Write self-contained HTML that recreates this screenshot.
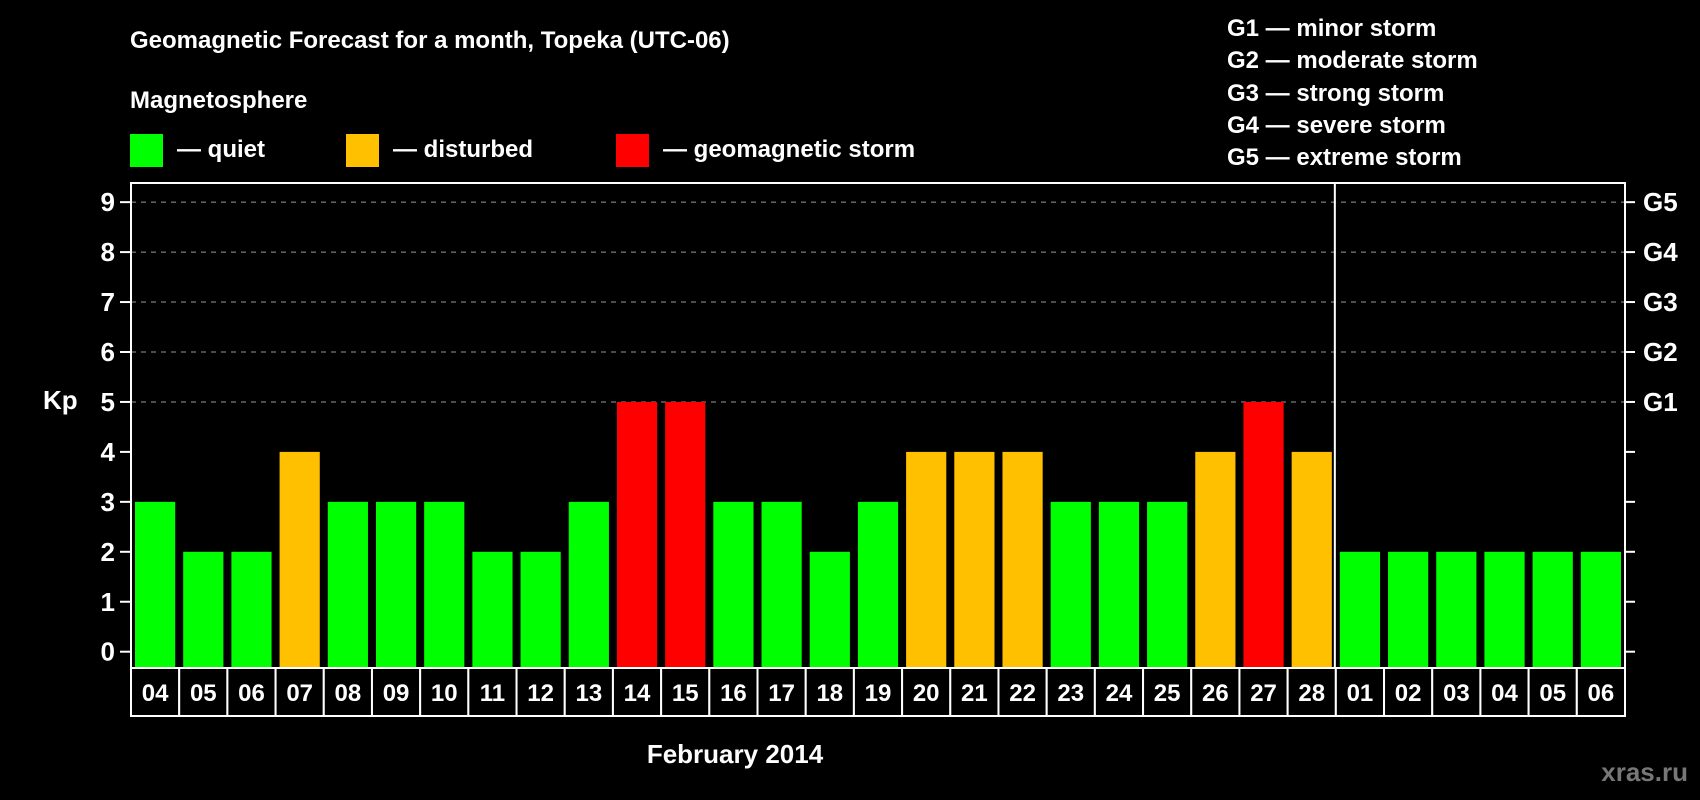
<!DOCTYPE html>
<html><head><meta charset="utf-8"><style>
body{margin:0;background:#000;}
svg{display:block;font-family:"Liberation Sans",Arial,sans-serif;font-weight:bold;}
</style></head><body>
<svg id="chart" width="1700" height="800" viewBox="0 0 1700 800">
<rect width="1700" height="800" fill="#000"/>
<text x="130" y="48" fill="#fff" font-size="24">Geomagnetic Forecast for a month, Topeka (UTC-06)</text>
<text x="130" y="108" fill="#fff" font-size="24">Magnetosphere</text>
<g><rect x="130" y="134" width="33" height="33" fill="#00ff00"/><text x="177" y="157" fill="#fff" font-size="24">— quiet</text></g>
<g><rect x="346" y="134" width="33" height="33" fill="#ffc000"/><text x="393" y="157" fill="#fff" font-size="24">— disturbed</text></g>
<g><rect x="616" y="134" width="33" height="33" fill="#ff0000"/><text x="663" y="157" fill="#fff" font-size="24">— geomagnetic storm</text></g>
<g fill="#fff" font-size="24">
<text x="1227" y="36">G1 — minor storm</text>
<text x="1227" y="68">G2 — moderate storm</text>
<text x="1227" y="101">G3 — strong storm</text>
<text x="1227" y="133">G4 — severe storm</text>
<text x="1227" y="165">G5 — extreme storm</text>
</g>
<text x="43" y="409" fill="#fff" font-size="26">Kp</text>
<text x="735" y="763" fill="#fff" font-size="26" text-anchor="middle">February 2014</text>
<text x="1688" y="781" fill="#777" font-size="26" text-anchor="end">xras.ru</text>
<g id="grid"></g><g id="bars"></g><g id="axes"></g>
</svg>
<script>
const days=["04","05","06","07","08","09","10","11","12","13","14","15","16","17","18","19","20","21","22","23","24","25","26","27","28","01","02","03","04","05","06"];
const kp=[3,2,2,4,3,3,3,2,2,3,5,5,3,3,2,3,4,4,4,3,3,3,4,5,4,2,2,2,2,2,2];
const yTicks=[0,1,2,3,4,5,6,7,8,9];
const gLabels=["","","","","","G1","G2","G3","G4","G5"];
const NS="http://www.w3.org/2000/svg";
const L=131,R=1625,T=183,B=668,Y0=651.7,U=49.95;
const pitch=(R-L)/days.length;
const y=v=>Y0-v*U;
const x=i=>L+i*pitch;
function mk(tag,attrs,parent){const e=document.createElementNS(NS,tag);for(const k in attrs)e.setAttribute(k,attrs[k]);parent.appendChild(e);return e;}
const grid=document.getElementById('grid'),bars=document.getElementById('bars'),axes=document.getElementById('axes');
yTicks.forEach((t,i)=>{
  if(t>=5){const g=mk('line',{x1:L,x2:R,y1:y(t),y2:y(t),stroke:'#999','stroke-dasharray':'5,5','stroke-width':1},grid);
  
  }
  const tk=mk('line',{x1:L-11,x2:L,y1:y(t),y2:y(t),stroke:'#fff','stroke-width':2},axes);
  
  
  const tr=mk('line',{x1:R,x2:R+10,y1:y(t),y2:y(t),stroke:'#fff','stroke-width':2},axes);
  
  
  const lb=mk('text',{x:L-16,y:y(t)+9,fill:'#fff','font-size':26,'text-anchor':'end'},axes);lb.textContent=t;
  
  
  if(gLabels[i]){const g=mk('text',{x:R+18,y:y(t)+9,fill:'#fff','font-size':26},axes);g.textContent=gLabels[i];
  
  }
});
kp.forEach((v,i)=>{
  const c=v>=5?'#ff0000':(v>=4?'#ffc000':'#00ff00');
  const b=mk('rect',{x:x(i)+4,y:y(v),width:pitch-8,height:y(0)-y(v)+16,fill:c},bars);
  
  
  const cell=mk('rect',{x:x(i),y:B,width:pitch,height:48,fill:'#000',stroke:'#fff','stroke-width':2},axes);
  
  
  const t=mk('text',{x:x(i)+pitch/2,y:B+33,fill:'#fff','font-size':24,'text-anchor':'middle'},axes);t.textContent=days[i];
  
  
});
const fr=mk('rect',{x:L,y:T,width:R-L,height:B-T,fill:'none',stroke:'#fff','stroke-width':2},axes);


const sep=mk('line',{x1:x(25)-1,x2:x(25)-1,y1:T,y2:B,stroke:'#fff','stroke-width':2},axes);


</script>
</body></html>
